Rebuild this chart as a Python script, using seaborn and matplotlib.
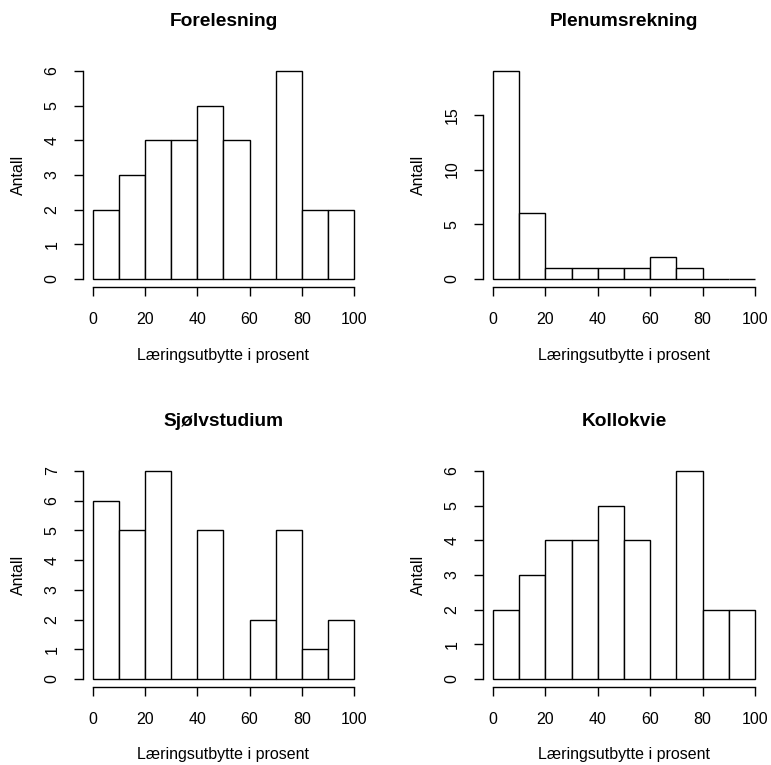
import numpy as np
import matplotlib
matplotlib.use("Agg")
import matplotlib.pyplot as plt
import seaborn as sns

# bin edges (percent) and counts per bin
bin_edges = [0, 10, 20, 30, 40, 50, 60, 70, 80, 90, 100]
forelesning = [2, 3, 4, 4, 5, 4, 0, 6, 2, 2]
plenumsrekning = [19, 6, 1, 1, 1, 1, 2, 1, 0, 0]
sjolvstudium = [6, 5, 7, 0, 5, 0, 2, 5, 1, 2]
kollokvie = [2, 3, 4, 4, 5, 4, 0, 6, 2, 2]

titles = ["Forelesning", "Plenumsrekning", "Sjølvstudium", "Kollokvie"]
y_ticks = [[0, 1, 2, 3, 4, 5, 6], [0, 5, 10, 15], [0, 1, 2, 3, 4, 5, 6, 7], [0, 1, 2, 3, 4, 5, 6]]
x_ticks = [0, 20, 40, 60, 80, 100]
x_label = "Læringsutbytte i prosent"
y_label = "Antall"

sns.set_style("ticks")
plt.rcParams["font.family"] = ["Liberation Sans", "DejaVu Sans"]
plt.rcParams["text.color"] = "black"
plt.rcParams["axes.labelcolor"] = "black"

fig = plt.figure(figsize=(7.71, 7.65), dpi=100)
W, H = 771, 765
# axes boxes in pixels: left, top, right, bottom (R plot regions)
boxes = [(82.6, 62.7, 364.4, 287.3), (482.5, 62.7, 765.5, 287.3),
         (82.6, 462.7, 364.4, 687.3), (482.5, 462.7, 765.5, 687.3)]

centers = [(a + b) / 2 for a, b in zip(bin_edges[:-1], bin_edges[1:])]
all_counts = [forelesning, plenumsrekning, sjolvstudium, kollokvie]

for i, counts in enumerate(all_counts):
    l, t, r, b = boxes[i]
    ax = fig.add_axes([l / W, 1 - b / H, (r - l) / W, (b - t) / H])
    sns.histplot(x=centers, weights=counts, bins=bin_edges, ax=ax,
                 color="white", alpha=1, edgecolor="black", linewidth=1.0)
    ymax = max(counts)
    ax.set_xlim(-4, 104)
    ax.set_ylim(-0.04 * ymax, 1.04 * ymax)
    ax.set_xticks(x_ticks)
    ax.set_yticks(y_ticks[i])
    for s in ["top", "right"]:
        ax.spines[s].set_visible(False)
    ax.spines["bottom"].set_bounds(0, 100)
    ax.spines["left"].set_bounds(y_ticks[i][0], y_ticks[i][-1])
    for s in ["bottom", "left"]:
        ax.spines[s].set_linewidth(1.0)
        ax.spines[s].set_color("black")
    ax.tick_params(axis="both", length=6.5, width=1.0, color="black",
                   labelsize=11.5, labelcolor="black")
    ax.tick_params(axis="x", pad=11)
    ax.tick_params(axis="y", pad=10, labelrotation=90)
    for lab in ax.get_yticklabels():
        lab.set_va("center")

    ax.set_xlabel(x_label, fontsize=11.5)
    ax.set_ylabel(y_label, fontsize=11.5)
    ax.xaxis.set_label_coords(0.5, -(355 - 287.3) / (b - t))
    ax.xaxis.label.set_va("center")
    ax.yaxis.set_label_coords(-64 / (r - l), 0.5)
    ax.yaxis.label.set_va("center")
    title_px = 22 if i < 2 else 422
    ax.set_title(titles[i], fontsize=13.8, fontweight="bold", color="black",
                 y=1 + (t - title_px) / (b - t), va="center", pad=0)

plt.savefig("out.png", dpi=100)
